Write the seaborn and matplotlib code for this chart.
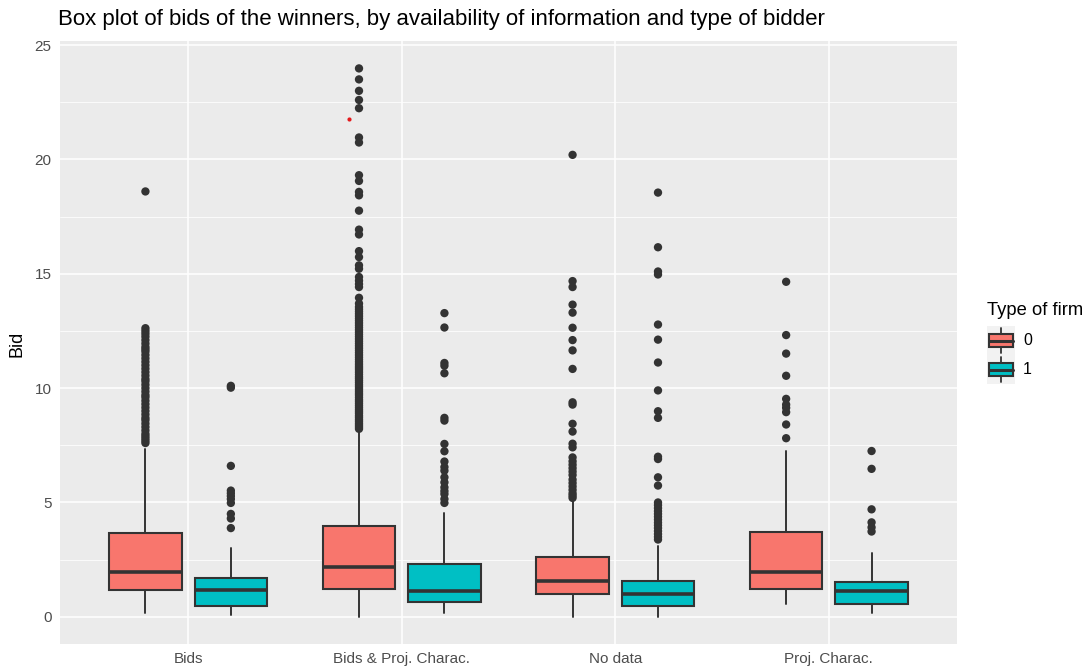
import matplotlib
matplotlib.use("Agg")
import matplotlib.pyplot as plt
import numpy as np
import pandas as pd
import seaborn as sns
from matplotlib.ticker import MultipleLocator
from matplotlib.patches import Rectangle

# ---- data -------------------------------------------------------------
categories = ["Bids", "Bids & Proj. Charac.", "No data", "Proj. Charac."]
firm_types = ["0", "1"]

# box statistics per category, firm type 0
q1_0 = [1.18, 1.21, 0.99, 1.21]
med_0 = [1.97, 2.16, 1.58, 1.98]
q3_0 = [3.68, 3.98, 2.60, 3.72]
lo_0 = [0.15, 0.01, 0.01, 0.56]
hi_0 = [7.36, 8.14, 5.15, 7.27]

# box statistics per category, firm type 1
q1_1 = [0.48, 0.63, 0.48, 0.58]
med_1 = [1.18, 1.11, 0.99, 1.11]
q3_1 = [1.69, 2.31, 1.58, 1.53]
lo_1 = [0.09, 0.15, 0.01, 0.18]
hi_1 = [3.02, 4.54, 3.11, 2.77]

# outliers
out_bids_0 = [18.6, 12.62, 12.5, 12.38, 12.25, 12.1, 11.95, 11.8, 11.7, 11.6,
              11.45, 11.3, 11.15, 11.0, 10.85, 10.7, 10.55, 10.4, 10.3, 10.15,
              10.0, 9.85, 9.7, 9.6, 9.45, 9.3, 9.15, 9.0, 8.85, 8.7, 8.6, 8.45,
              8.3, 8.15, 8.0, 7.9, 7.8, 7.7, 7.6]
out_bids_1 = [10.1, 10.02, 6.6, 5.52, 5.4, 5.28, 5.15, 4.98, 4.5, 4.3, 3.88]
out_bp_0 = [23.98, 23.5, 23.0, 22.6, 22.24, 20.96, 20.74, 19.31, 19.06, 18.58,
            18.43, 17.76, 16.93, 16.72, 15.99, 15.73, 15.37, 15.22, 14.86,
            14.7, 14.55, 14.42, 13.95, 13.7, 13.55, 13.45, 13.35, 13.25, 13.15,
            13.05, 12.95, 12.85, 12.75, 12.65, 12.55, 12.45, 12.35, 12.25,
            12.15, 12.05, 11.95, 11.85, 11.75, 11.65, 11.55, 11.45, 11.35,
            11.25, 11.15, 11.05, 10.96, 10.88, 10.8, 10.7, 10.6, 10.5, 10.42,
            10.33, 10.24, 10.14, 10.05, 9.96, 9.87, 9.78, 9.7, 9.6, 9.5, 9.42,
            9.33, 9.24, 9.15, 9.06, 8.98, 8.9, 8.8, 8.72, 8.63, 8.55, 8.46,
            8.38, 8.3, 8.22]
out_bp_1 = [13.28, 12.65, 11.1, 10.98, 10.65, 8.7, 8.58, 7.56, 7.24, 6.79,
            6.55, 6.39, 6.1, 5.88, 5.66, 5.5, 5.37, 5.15, 4.98]
out_nd_0 = [20.2, 14.68, 14.42, 13.65, 13.3, 12.64, 12.1, 11.65, 10.84, 9.38,
            9.28, 8.44, 8.1, 7.57, 7.41, 6.97, 6.8, 6.65, 6.5, 6.35, 6.2, 6.0,
            5.85, 5.7, 5.55, 5.4, 5.3, 5.2]
out_nd_1 = [18.55, 16.16, 15.1, 14.97, 12.78, 12.12, 11.12, 9.9, 8.99, 8.7,
            7.0, 6.9, 6.1, 5.74, 5.0, 4.88, 4.75, 4.62, 4.5, 4.38, 4.25, 4.12,
            4.0, 3.88, 3.75, 3.62, 3.5, 3.38]
out_pc_0 = [14.65, 12.32, 11.51, 10.54, 9.53, 9.28, 9.14, 8.95, 8.41, 7.81]
out_pc_1 = [7.25, 6.47, 4.7, 4.13, 3.91, 3.73]

# single highlighted observation
highlight_category = "Bids & Proj. Charac."
highlight_value = 21.75

fill_colors = {"0": "#F8766D", "1": "#00BFC4"}
line_color = "#333333"

# ---- theme ------------------------------------------------------------
sns.set_theme(style="darkgrid", rc={
    "axes.facecolor": "#EBEBEB",
    "figure.facecolor": "white",
    "grid.color": "white",
    "grid.linewidth": 1.1,
    "xtick.major.size": 3,
    "ytick.major.size": 3,
    "xtick.major.width": 0.8,
    "ytick.major.width": 0.8,
    "xtick.color": "#333333",
    "ytick.color": "#333333",
    "xtick.major.pad": 3,
    "ytick.major.pad": 3,
    "axes.edgecolor": "none",
})
plt.rcParams["font.family"] = ["Liberation Sans", "DejaVu Sans"]

fig = plt.figure(figsize=(10.87, 6.69), dpi=100)
ax = fig.add_axes([60 / 1087, 25 / 669, 897 / 1087, 603 / 669])

# ---- outliers (dodged by firm type) -----------------------------------
outliers = {
    ("Bids", "0"): out_bids_0, ("Bids", "1"): out_bids_1,
    ("Bids & Proj. Charac.", "0"): out_bp_0, ("Bids & Proj. Charac.", "1"): out_bp_1,
    ("No data", "0"): out_nd_0, ("No data", "1"): out_nd_1,
    ("Proj. Charac.", "0"): out_pc_0, ("Proj. Charac.", "1"): out_pc_1,
}
rows = [(c, f, v) for (c, f), vals in outliers.items() for v in vals]
df_out = pd.DataFrame(rows, columns=["info", "firm", "bid"])

sns.stripplot(data=df_out, x="info", y="bid", hue="firm", order=categories,
              hue_order=firm_types, dodge=True, jitter=False,
              palette={"0": line_color, "1": line_color}, size=6,
              linewidth=0, legend=False, ax=ax, zorder=3)

# ---- boxes ------------------------------------------------------------
offset = 0.2
box_w = 0.34
base = np.arange(len(categories))
for firm, sign, q1, med, q3, lo, hi in [
        ("0", -1, q1_0, med_0, q3_0, lo_0, hi_0),
        ("1", 1, q1_1, med_1, q3_1, lo_1, hi_1)]:
    stats = [dict(q1=a, med=b, q3=c, whislo=d, whishi=e, fliers=[])
             for a, b, c, d, e in zip(q1, med, q3, lo, hi)]
    ax.bxp(stats, positions=base + sign * offset, widths=box_w,
           patch_artist=True, showfliers=False, showcaps=False,
           manage_ticks=False, zorder=4,
           boxprops=dict(facecolor=fill_colors[firm], edgecolor=line_color,
                         linewidth=1.5),
           medianprops=dict(color=line_color, linewidth=2.6),
           whiskerprops=dict(color=line_color, linewidth=1.4))

hx = categories.index(highlight_category) - 0.245
ax.scatter([hx], [highlight_value], s=9, color="#E41A1C", zorder=5,
           linewidths=0)

# ---- axes -------------------------------------------------------------
all_vals = [v for vals in outliers.values() for v in vals] + lo_0 + lo_1
vmin, vmax = min(all_vals), max(all_vals)
pad = 0.05 * (vmax - vmin)
ax.set_ylim(vmin - pad, vmax + pad)
ax.set_xlim(-0.6, len(categories) - 0.4)
ax.set_yticks([0, 5, 10, 15, 20, 25])
ax.yaxis.set_minor_locator(MultipleLocator(2.5))
ax.grid(True, which="major", axis="both", color="white", linewidth=1.1)
ax.grid(True, which="minor", axis="y", color="white", linewidth=0.55)
ax.tick_params(which="minor", length=0)
ax.tick_params(axis="both", labelsize=11, labelcolor="#4D4D4D")
ax.set_xlabel("")
ax.set_ylabel("")
ax.set_axisbelow(True)
for s in ax.spines.values():
    s.set_visible(False)

fig.text(17 / 1087, 1 - 344 / 669, "Bid", rotation=90, va="center",
         ha="center", fontsize=13, color="black")
fig.text(58 / 1087, 1 - 19 / 669,
         "Box plot of bids of the winners, by availability of information and type of bidder",
         fontsize=16, va="center", ha="left", color="black")

# ---- legend -----------------------------------------------------------
fig.text(987 / 1087, 1 - 310 / 669, "Type of firm", fontsize=13.2,
         va="center", ha="left", color="black")
lax = fig.add_axes([987 / 1087, (669 - 384) / 669, 28 / 1087, 58 / 669])
lax.set_xlim(0, 1)
lax.set_ylim(0, 2)
lax.axis("off")
for i, firm in enumerate(firm_types):
    y0 = 1 - i
    lax.add_patch(Rectangle((0, y0), 1, 1, facecolor="#F2F2F2",
                            edgecolor="none"))
    lax.plot([0.5, 0.5], [y0 + 0.08, y0 + 0.92], color=line_color, lw=1.3)
    lax.add_patch(Rectangle((0.08, y0 + 0.27), 0.84, 0.46,
                            facecolor=fill_colors[firm],
                            edgecolor=line_color, linewidth=1.5, zorder=3))
    lax.plot([0.08, 0.92], [y0 + 0.5, y0 + 0.5], color=line_color, lw=2.2,
             zorder=4)
    fig.text(1023 / 1087, 1 - (341 + 29 * i) / 669, firm, fontsize=11.5,
             va="center", ha="left", color="black")

fig.savefig("out.png", dpi=100)
